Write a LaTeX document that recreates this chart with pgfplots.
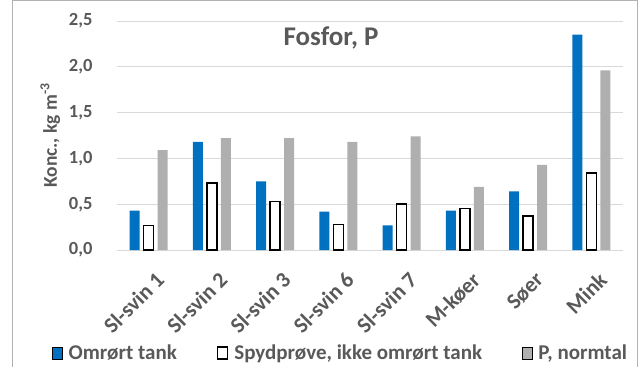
\documentclass[border=0pt]{standalone}
\usepackage{pgfplots}
\pgfplotsset{compat=1.18}
\usepackage{fontspec}
\setmainfont{Carlito}
\definecolor{barblue}{RGB}{0,112,192}
\definecolor{bargray}{RGB}{175,175,175}
\definecolor{txt}{RGB}{89,89,89}
\definecolor{gridc}{RGB}{217,217,217}
\pgfplotsset{sqleg/.style={legend image code/.code={\draw[##1,bar shift=0pt] (0pt,-6pt) rectangle (10pt,6pt);}}}
\begin{document}
\begin{tikzpicture}
\path[use as bounding box] (0,0) rectangle (640pt,367pt);
\draw[black!30, line width=1pt] (12pt,0) -- (12pt,366pt) -- (637pt,366pt) -- (637pt,0);
\begin{axis}[
  at={(117pt,117pt)}, anchor=south west,
  scale only axis, width=506pt, height=229pt,
  ymin=0, ymax=2.5, xmin=-0.5, xmax=7.5,
  ybar=4pt, bar width=10pt,
  axis line style={draw=none},
  major tick length=0pt,
  ymajorgrids, grid style={gridc, line width=1pt},
  ytick={0,0.5,1,1.5,2,2.5},
  xtick={0,1,2,3,4,5,6,7},
  xticklabels={Sl-svin 1,Sl-svin 2,Sl-svin 3,Sl-svin 6,Sl-svin 7,M-køer,Søer,Mink},
  /pgf/number format/assume math mode=true,
  /pgf/number format/fixed, /pgf/number format/fixed zerofill,
  /pgf/number format/precision=1, /pgf/number format/use comma,
  yticklabel style={font=\fontsize{18.5}{22}\selectfont\bfseries, text=txt, anchor=east, xshift=-21pt},
  xticklabel style={font=\fontsize{22}{26}\selectfont\bfseries, text=txt, xshift=14pt, yshift=-24pt, rotate=45, anchor=east},
  ylabel={Konc., kg m\textsuperscript{-3}},
  every axis y label/.style={at={(rel axis cs:-0.132,0.5)}, rotate=90, anchor=center, font=\fontsize{19.5}{22}\selectfont\bfseries, text=txt},
  legend style={at={(rel axis cs:0.442,-0.45)}, anchor=center, draw=none, fill=none,
    font=\fontsize{21}{24}\selectfont\bfseries, text=txt,
    /tikz/every even column/.append style={column sep=38pt},
    /tikz/every odd column/.append style={column sep=4pt}},
  legend columns=3, legend cell align=left,
]
\addplot[fill=barblue, draw=none, sqleg] coordinates {(0,0.43) (1,1.18) (2,0.75) (3,0.42) (4,0.27) (5,0.43) (6,0.64) (7,2.35)};
\addplot[fill=white, draw=black, line width=1.5pt, sqleg] coordinates {(0,0.27) (1,0.73) (2,0.53) (3,0.28) (4,0.50) (5,0.455) (6,0.37) (7,0.84)};
\addplot[fill=bargray, draw=none, sqleg] coordinates {(0,1.09) (1,1.22) (2,1.22) (3,1.18) (4,1.24) (5,0.69) (6,0.93) (7,1.96)};
\legend{Omrørt tank, {Spydprøve, ikke omrørt tank}, {P, normtal}}
\node[anchor=base, font=\fontsize{27}{30}\selectfont\bfseries, text=txt] at (rel axis cs:0.423,0.891) {Fosfor, P};
\end{axis}
\end{tikzpicture}
\end{document}
